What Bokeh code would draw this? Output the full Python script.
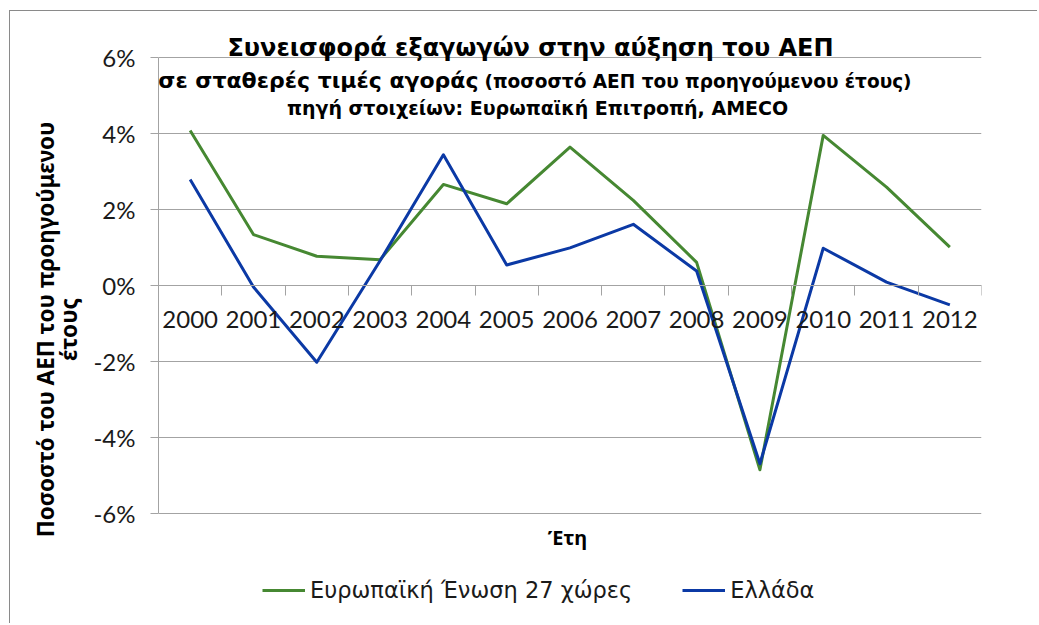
from bokeh.plotting import figure
from bokeh.models import Range1d, FixedTicker, Label, Legend, LegendItem, LinearAxis
from bokeh.embed import file_html
from bokeh.resources import INLINE

years = [2000, 2001, 2002, 2003, 2004, 2005, 2006, 2007, 2008, 2009, 2010, 2011, 2012]
eu27 = [4.08, 1.34, 0.77, 0.68, 2.66, 2.15, 3.64, 2.24, 0.61, -4.85, 3.95, 2.59, 1.01]
greece = [2.79, -0.04, -2.02, 0.65, 3.44, 0.54, 0.99, 1.61, 0.38, -4.69, 0.98, 0.09, -0.51]
y_ticks = [-6, -4, -2, 0, 2, 4, 6]
y_tick_labels = ["-6%", "-4%", "-2%", "0%", "2%", "4%", "6%"]
series_names = ["Ευρωπαϊκή Ένωση 27 χώρες", "Ελλάδα"]
title_1 = "Συνεισφορά εξαγωγών στην αύξηση του ΑΕΠ"
title_2a = "σε σταθερές τιμές αγοράς"
title_2b = "(ποσοστό ΑΕΠ του προηγούμενου έτους)"
title_3 = "πηγή στοιχείων: Ευρωπαϊκή Επιτροπή, AMECO"
y_label_1 = "Ποσοστό του ΑΕΠ του προηγούμενου"
y_label_2 = "έτους"
x_label = "Έτη"

GREEN = "#468832"
BLUE = "#0b39a5"
GRID = "#a3a3a3"

# page geometry: value axis 6% .. -6% spans page y 57 .. 513, categories span x 158 .. 981
AL, AR, A_TOP, A_BOT = 158, 981, 57, 513
OX, OY = 10, 11            # figure content origin on the page (margin + border)
W, H = 1028, 613
FT, FB = 34, OY + H        # frame extends above/below the value axis for texts
PX_PER_UNIT = (A_BOT - A_TOP) / 12.0

def dx(px):
    return 1999.5 + (px - AL) * 13.0 / (AR - AL)
def dy(py):
    return 6 - (py - A_TOP) / PX_PER_UNIT

p = figure(width=W, height=H, output_backend="svg", toolbar_location=None,
           x_range=Range1d(1999.5, 2012.5), y_range=Range1d(dy(FB), dy(FT)),
           min_border_left=AL - OX, min_border_right=OX + W - AR,
           min_border_top=FT - OY, min_border_bottom=0)
p.margin = (10, 0, 0, 9)
p.styles = {"border-top": "1px solid #8a8a8a", "border-left": "1px solid #8a8a8a"}
p.outline_line_color = None
p.background_fill_color = "white"
p.border_fill_color = "white"

# x axis at zero, ticks between categories
p.xaxis.fixed_location = 0
p.xaxis.ticker = FixedTicker(ticks=years, minor_ticks=[y - 0.5 for y in years] + [years[-1] + 0.5])
p.xaxis.major_label_overrides = {y: str(y) for y in years}
p.xaxis.major_tick_line_color = None
p.xaxis.minor_tick_in = 0
p.xaxis.minor_tick_out = 10
p.xaxis.minor_tick_line_color = GRID
p.xaxis.axis_line_color = GRID
p.xaxis.major_label_standoff = 15
p.xaxis.major_label_text_font = "Lato"
p.xaxis.major_label_text_font_size = "24px"
p.xaxis.major_label_text_color = "#1a1a1a"

p.yaxis.ticker = FixedTicker(ticks=y_ticks, minor_ticks=[])
p.yaxis.bounds = (-6, 6)
p.yaxis.major_label_overrides = dict(zip(y_ticks, y_tick_labels))
p.yaxis.major_tick_in = 0
p.yaxis.major_tick_out = 8
p.yaxis.major_tick_line_color = GRID
p.yaxis.axis_line_color = GRID
p.yaxis.major_label_standoff = 15
p.yaxis.major_label_text_font = "Lato"
p.yaxis.major_label_text_font_size = "24px"
p.yaxis.major_label_text_color = "#1a1a1a"

p.xgrid.grid_line_color = None
p.ygrid.grid_line_color = GRID
p.ygrid.ticker = FixedTicker(ticks=y_ticks)

# two-line value-axis title as two label-only axes
def label_axis(text, center_py, standoff):
    ax = LinearAxis(axis_label=text, ticker=FixedTicker(ticks=[]),
                    bounds=(dy(center_py + 100), dy(center_py - 100)),
                    axis_line_color=None, major_tick_out=0, major_tick_in=0,
                    minor_tick_out=0, minor_tick_in=0,
                    axis_label_standoff=standoff, axis_label_text_font="Noto Sans",
                    axis_label_text_font_size="22.5px", axis_label_text_font_style="bold",
                    axis_label_text_color="black")
    p.add_layout(ax, "left")

label_axis(y_label_2, 334, 7)
label_axis(y_label_1, 330, -11)

r1 = p.line(years, eu27, line_color=GREEN, line_width=3, line_join="round")
r2 = p.line(years, greece, line_color=BLUE, line_width=3, line_join="round")

legend = Legend(items=[LegendItem(label=series_names[0], renderers=[r1]),
                       LegendItem(label=series_names[1], renderers=[r2])],
                orientation="horizontal", location=(262 - AL, FB - 603),
                label_text_font="DejaVu Sans", label_text_font_size="22.5px",
                label_text_color="#1a1a1a",
                glyph_width=43, glyph_height=26, label_standoff=5, spacing=50,
                padding=0, margin=0, border_line_color=None, background_fill_alpha=0)
p.add_layout(legend, "center")

def lab(text, px, py, size, font="DejaVu Sans", align="center"):
    p.add_layout(Label(x=dx(px), y=dy(py), text=text, text_font=font, text_font_size=size,
                       text_font_style="bold", text_align=align, text_baseline="middle",
                       text_color="black"))

lab(title_1, 530, 47, "24px")
lab(title_2a, 478, 80, "22px", align="right")
lab(title_2b, 484, 81, "18.5px", align="left")
lab(title_3, 537, 107, "19px")
lab(x_label, 567, 537, "20px", font="Noto Sans")

open("out.html", "w").write(file_html(p, INLINE))
